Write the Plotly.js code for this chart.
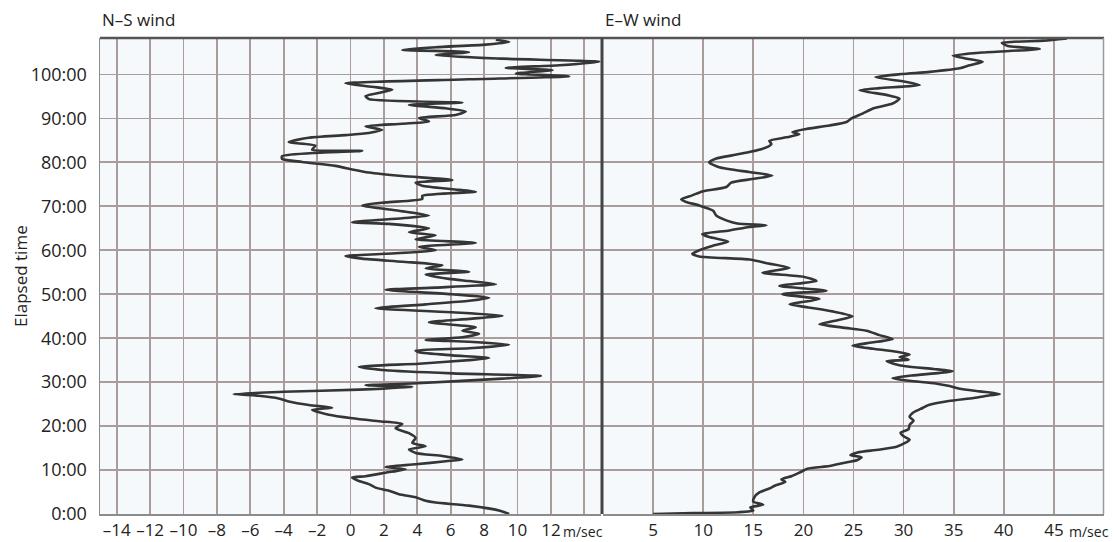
<!DOCTYPE html>
<html>
<head>
<meta charset="utf-8">
<script src="https://cdn.plot.ly/plotly-3.0.1.min.js"></script>
<style>html,body{margin:0;padding:0;background:#fff;}#chart{width:1114px;height:542px;}</style>
</head>
<body>
<div id="chart"></div>
<script>
// ---- data (hours elapsed, wind in m/sec) ----
const nsHours = [0.0,0.7,1.9,2.6,3.0,3.8,4.5,5.3,6.0,6.8,7.5,8.3,8.6,9.4,10.2,10.7,11.3,12.0,12.4,13.2,13.9,14.7,15.4,16.2,17.3,18.4,19.5,20.5,21.1,21.8,22.6,23.7,24.2,24.8,25.6,26.3,26.9,27.3,27.8,28.3,28.9,29.3,29.7,30.8,31.4,32.0,32.7,33.5,34.2,35.0,35.5,36.1,36.8,37.2,37.7,38.5,39.2,39.6,40.2,41.0,41.7,42.5,43.6,44.4,45.1,45.9,46.8,47.7,48.5,49.2,50.0,51.0,51.5,52.3,53.0,53.5,54.5,55.1,55.9,56.6,57.4,58.1,58.7,59.2,60.0,60.8,61.7,62.5,63.4,64.1,65.0,66.0,66.4,67.3,67.9,69.0,70.2,70.9,71.7,72.4,73.3,73.9,74.7,75.4,76.0,76.9,77.7,78.4,79.2,80.1,80.8,81.4,82.2,82.6,82.9,83.8,84.6,85.6,86.2,86.7,87.4,88.2,88.8,89.3,90.1,90.8,91.6,92.3,93.1,93.6,94.4,95.1,96.5,97.2,98.0,98.9,99.6,100.2,101.0,101.5,102.1,102.9,103.6,104.4,105.1,105.6,106.2,106.8,107.4,107.9];
const nsWind  = [9.5,9.0,7.1,5.1,4.5,3.9,2.9,2.3,1.5,1.1,0.5,0.1,0.9,2.1,3.3,2.1,3.9,5.7,6.7,5.5,3.9,3.5,4.5,3.7,3.9,3.5,2.7,3.1,1.7,0.1,-1.3,-2.3,-1.1,-2.5,-3.7,-4.3,-5.5,-7.0,-4.0,0.5,3.7,0.9,3.7,9.1,11.4,6.1,2.1,0.5,4.1,7.1,8.3,6.1,4.1,3.9,7.1,9.5,7.1,4.5,6.7,7.7,6.7,7.5,4.7,7.1,9.1,6.1,1.5,4.5,7.1,8.3,6.1,2.1,5.1,8.7,7.1,5.9,4.5,7.1,4.5,5.5,3.1,0.7,-0.3,2.1,5.1,4.1,7.5,3.9,5.1,3.5,4.7,2.3,0.1,3.1,4.7,2.9,0.7,2.1,4.3,4.3,7.5,6.1,4.3,3.9,6.1,3.1,1.1,0.1,-0.9,-2.9,-4.1,-4.1,-1.9,0.7,-2.3,-2.1,-3.7,-2.5,-0.3,1.1,1.9,0.9,3.1,4.7,4.1,6.3,6.9,5.7,3.5,6.7,1.1,0.9,2.5,1.3,-0.3,7.1,13.1,9.9,12.1,9.3,12.5,14.9,9.1,5.1,7.1,3.1,5.1,8.1,9.5,8.7];

const ewHours = [0.0,0.2,0.4,0.8,1.5,2.1,2.8,3.8,4.9,5.8,6.5,7.3,7.9,8.6,9.4,10.3,10.9,11.6,12.3,12.9,13.4,14.0,14.6,15.3,16.1,16.9,17.7,18.5,19.3,20.3,21.2,22.1,23.0,23.9,24.8,25.7,26.4,27.0,27.3,27.9,28.5,29.1,29.7,30.3,30.9,31.5,32.1,32.5,33.0,33.6,34.2,34.8,35.1,35.7,36.3,36.9,37.6,38.3,39.0,39.8,40.7,41.7,42.4,43.2,44.1,45.0,46.1,47.0,47.7,48.9,50.0,50.8,51.9,53.0,54.0,54.9,56.0,57.0,57.9,58.6,59.2,60.0,61.0,62.0,63.0,63.7,64.5,65.3,65.7,66.1,66.8,67.9,69.0,70.2,71.0,71.6,72.5,73.4,74.4,75.4,76.2,77.0,77.8,78.9,80.0,80.9,81.6,82.4,83.4,84.2,84.9,85.7,86.4,86.9,87.6,88.4,89.2,90.0,91.1,92.3,93.4,94.5,95.3,96.4,96.9,97.6,98.3,99.4,100.1,100.6,101.4,102.1,102.9,103.6,104.3,105.0,105.8,106.5,107.2,107.7,108.2];
const ewWind  = [5.0,9.0,13.5,15.0,14.7,16.0,15.0,15.1,15.6,16.6,17.2,18.2,17.8,18.8,19.6,20.4,22.6,24.0,25.4,25.8,24.7,25.4,27.4,29.3,30.1,30.6,30.0,29.7,30.5,30.6,31.0,30.6,30.9,31.7,32.5,34.5,37.0,38.6,39.6,37.6,35.6,34.6,33.2,30.6,28.9,30.8,33.6,34.9,33.0,30.2,29.0,28.3,30.5,29.6,30.6,29.3,27.0,24.9,26.8,28.9,27.6,26.3,24.0,21.6,23.4,24.9,22.9,20.5,18.6,21.6,17.9,22.3,17.6,21.3,20.0,15.9,18.6,16.5,14.6,9.6,8.9,9.6,10.9,12.5,10.6,9.9,12.6,14.6,16.3,13.4,12.3,11.3,11.0,9.6,8.3,7.8,8.9,9.9,12.3,12.8,14.9,16.9,14.6,11.6,10.6,11.3,12.9,14.7,16.3,16.8,16.6,18.3,19.6,18.9,20.3,22.6,24.3,24.8,25.9,27.0,28.9,29.6,28.4,25.6,27.6,31.6,30.3,27.2,29.8,32.6,35.6,36.6,37.9,36.3,34.9,37.8,43.6,40.4,39.8,44.0,46.3];

const timeTickVals = [0,10,20,30,40,50,60,70,80,90,100];
const timeTickText = ["0:00","10:00","20:00","30:00","40:00","50:00","60:00","70:00","80:00","90:00","100:00"];
const nsTickVals = [-14,-12,-10,-8,-6,-4,-2,0,2,4,6,8,10,12,14];
const nsTickText = ["–14","–12","–10","–8","–6","–4","–2","0","2","4","6","8","10","12",""];
const ewTickVals = [5,10,15,20,25,30,35,40,45];
const ewTickText = ["5","10","15","20","25","30","35","40","45"];
const unitLabel = "m/sec";
const panelTitles = ["N–S wind","E–W wind"];
const yTitle = "Elapsed time";

// ---- layout helpers ----
const W = 1114, H = 542;
const px = x => x / W, py = y => 1 - y / H;
const FONT = "Open Sans, sans-serif";
const gridColor = "#ab9c9c";

const lineStyle = {color:"#353535", width:2.6, shape:"spline", smoothing:0.6};

const traces = [
  {x: nsWind, y: nsHours, xaxis:"x", yaxis:"y", mode:"lines", line: lineStyle, hoverinfo:"none"},
  {x: ewWind, y: ewHours, xaxis:"x2", yaxis:"y", mode:"lines", line: lineStyle, hoverinfo:"none"}
];

const commonX = {
  showgrid:true, gridcolor:gridColor, gridwidth:1.8, zeroline:false,
  showline:true, linecolor:"#8c8c8c", linewidth:1.5,
  ticks:"", tickfont:{family:FONT, size:17, color:"#222"}, fixedrange:true
};

const layout = {
  width:W, height:H,
  margin:{l:0,r:0,t:0,b:0},
  paper_bgcolor:"#ffffff",
  plot_bgcolor:"#f6f9fb",
  showlegend:false,
  xaxis: Object.assign({}, commonX, {
    domain:[px(100), px(601)], range:[-15,15],
    tickmode:"array", tickvals:nsTickVals, ticktext:nsTickText, anchor:"y"
  }),
  xaxis2: Object.assign({}, commonX, {
    domain:[px(603), px(1104)], range:[0,50],
    tickmode:"array", tickvals:ewTickVals, ticktext:ewTickText, anchor:"y"
  }),
  yaxis: {
    domain:[py(514), py(38)], range:[0,108.3],
    tickmode:"array", tickvals:timeTickVals, ticktext:timeTickText,
    showgrid:true, gridcolor:gridColor, gridwidth:1.8, zeroline:false,
    showline:true, linecolor:"#8c8c8c", linewidth:1.5,
    ticks:"outside", ticklen:8, tickcolor:"rgba(0,0,0,0)",
    tickfont:{family:FONT, size:18, color:"#222"}, fixedrange:true
  },
  shapes: [
    {type:"line", xref:"paper", yref:"paper", x0:px(100), x1:px(1104), y0:py(38), y1:py(38), line:{color:"#555", width:2.5}},
    {type:"line", xref:"paper", yref:"paper", x0:px(602), x1:px(602), y0:py(514), y1:py(38), line:{color:"#444", width:3}},
    {type:"line", xref:"paper", yref:"paper", x0:px(1103.5), x1:px(1103.5), y0:py(514), y1:py(38), line:{color:"#9a9a9a", width:1.5}}
  ],
  annotations: [
    {text:panelTitles[0], xref:"paper", yref:"paper", x:px(100), y:py(20), xanchor:"left", yanchor:"middle", showarrow:false, font:{family:FONT, size:17, color:"#222"}},
    {text:panelTitles[1], xref:"paper", yref:"paper", x:px(603), y:py(20), xanchor:"left", yanchor:"middle", showarrow:false, font:{family:FONT, size:17, color:"#222"}},
    {text:yTitle, xref:"paper", yref:"paper", x:px(20), y:py(276), xanchor:"center", yanchor:"middle", textangle:-90, showarrow:false, font:{family:FONT, size:17, color:"#222"}},
    {text:unitLabel, xref:"paper", yref:"paper", x:px(561), y:py(531), xanchor:"left", yanchor:"middle", showarrow:false, font:{family:FONT, size:14, color:"#222"}},
    {text:unitLabel, xref:"paper", yref:"paper", x:px(1067), y:py(531), xanchor:"left", yanchor:"middle", showarrow:false, font:{family:FONT, size:14, color:"#222"}}
  ]
};

Plotly.newPlot("chart", traces, layout, {displayModeBar:false, staticPlot:true});
</script>
</body>
</html>
